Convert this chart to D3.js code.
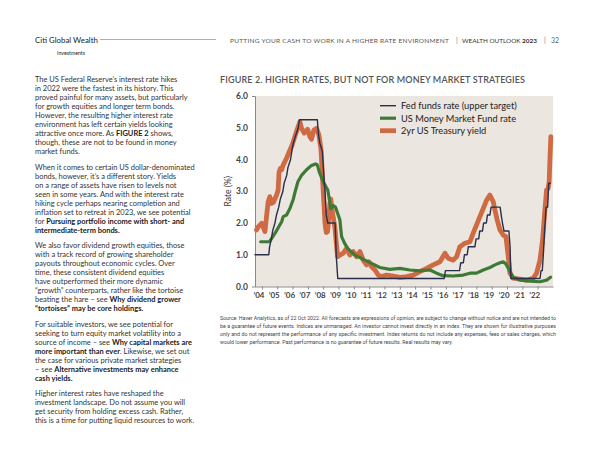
<!DOCTYPE html>
<html><head><meta charset="utf-8">
<script src="https://cdn.jsdelivr.net/npm/d3@7"></script>
<style>html,body{margin:0;padding:0;background:#fff;} svg{display:block}</style>
</head><body>
<svg id="c" width="600" height="463"></svg>
<script>
// ---------------- DATA ----------------
const years = d3.range(2004, 2023);
const yTicks = [0, 1, 2, 3, 4, 5, 6];
const seriesNames = ["Fed funds rate (upper target)", "US Money Market Fund rate", "2yr US Treasury yield"];

const fedT = [2003.55,2004.45,2004.5,2004.62,2004.7,2004.85,2004.95,2005.1,2005.2,2005.37,2005.45,2005.62,2005.7,2005.87,2005.95,2006.04,2006.2,2006.37,2006.45,2007.62,2007.7,2007.79,2007.95,2008.04,2008.12,2008.2,2008.3,2008.78,2008.85,2008.95,2015.9,2015.98,2016.9,2016.98,2017.15,2017.22,2017.4,2017.47,2017.9,2017.98,2018.15,2018.22,2018.4,2018.47,2018.65,2018.72,2018.88,2018.96,2019.55,2019.62,2019.7,2019.8,2020.12,2020.2,2020.25,2022.15,2022.22,2022.3,2022.37,2022.45,2022.55,2022.65,2022.72,2022.82];
const fedV = [1.0,1.0,1.25,1.5,1.75,2.0,2.25,2.5,2.75,3.0,3.25,3.5,3.75,4.0,4.25,4.5,4.75,5.0,5.25,5.25,4.75,4.5,4.25,3.5,3.0,2.25,2.0,2.0,1.0,0.25,0.25,0.5,0.5,0.75,0.75,1.0,1.0,1.25,1.25,1.5,1.5,1.75,1.75,2.0,2.0,2.25,2.25,2.5,2.5,2.25,2.0,1.75,1.75,1.25,0.25,0.25,0.5,0.5,1.0,1.75,2.5,2.5,3.25,3.25];

const mmfT = [2003.92,2004.5,2004.85,2005.29,2005.39,2005.61,2005.83,2006.05,2006.2,2006.35,2006.6,2006.9,2007.2,2007.5,2007.62,2007.75,2008.0,2008.3,2008.5,2008.65,2008.8,2009.09,2009.2,2009.4,2009.6,2010.07,2010.72,2011.16,2011.7,2012.36,2013.01,2013.66,2014.31,2014.97,2015.4,2015.83,2016.49,2017.14,2017.58,2018.01,2018.45,2018.88,2019.21,2019.54,2019.75,2019.93,2020.19,2020.4,2020.84,2021.49,2022.15,2022.58,2022.84];
const mmfV = [1.41,1.41,1.67,2.04,2.2,2.25,2.46,2.75,3.04,3.3,3.51,3.67,3.8,3.86,3.83,3.6,3.3,3.04,2.45,2.55,2.5,2.1,1.57,1.36,1.2,0.99,0.83,0.73,0.6,0.54,0.57,0.52,0.49,0.52,0.42,0.34,0.33,0.36,0.42,0.42,0.52,0.6,0.68,0.75,0.78,0.71,0.47,0.29,0.2,0.17,0.15,0.2,0.29];

const t2yT = [2003.65,2003.76,2003.98,2004.08,2004.2,2004.3,2004.41,2004.52,2004.63,2004.75,2004.96,2005.06,2005.12,2005.2,2005.29,2005.39,2005.61,2005.83,2005.98,2006.15,2006.33,2006.48,2006.59,2006.76,2006.98,2007.13,2007.24,2007.39,2007.57,2007.72,2007.85,2007.94,2008.0,2008.07,2008.12,2008.2,2008.29,2008.44,2008.5,2008.55,2008.65,2008.76,2008.88,2008.94,2009.09,2009.31,2009.53,2009.74,2009.96,2010.18,2010.4,2010.61,2010.83,2010.98,2011.16,2011.38,2011.59,2011.81,2012.14,2012.57,2013.01,2013.45,2013.88,2014.31,2014.75,2015.18,2015.62,2015.95,2016.16,2016.49,2016.71,2016.92,2017.25,2017.58,2017.79,2018.01,2018.23,2018.45,2018.67,2018.88,2019.1,2019.21,2019.36,2019.54,2019.75,2019.93,2020.08,2020.19,2020.4,2020.84,2021.28,2021.71,2021.93,2022.15,2022.32,2022.47,2022.58,2022.68,2022.75,2022.8,2022.86];
const t2yV = [1.78,1.88,1.99,1.88,1.73,2.2,2.67,2.83,2.62,2.65,2.88,3.04,3.6,3.72,3.68,3.83,4.04,4.3,4.46,4.72,4.98,5.19,4.98,4.83,4.95,4.72,4.64,4.93,4.98,4.77,4.35,3.6,3.04,2.41,1.99,1.7,1.73,2.62,2.75,2.51,2.2,1.88,1.25,0.94,0.99,1.05,1.2,0.99,1.1,0.94,1.1,0.83,0.68,0.78,0.62,0.52,0.36,0.31,0.36,0.33,0.29,0.31,0.36,0.47,0.57,0.68,0.78,1.05,0.89,0.83,0.94,1.25,1.36,1.41,1.68,1.94,2.2,2.46,2.72,2.88,2.67,2.41,2.09,1.78,1.62,1.57,0.94,0.42,0.26,0.23,0.2,0.26,0.42,0.83,1.46,2.41,3.04,3.09,3.3,4.0,4.72];

const paragraphs = [
 ["The US Federal Reserve’s interest rate hikes",
  "in 2022 were the fastest in its history. This",
  "proved painful for many assets, but particularly",
  "for growth equities and longer term bonds.",
  "However, the resulting higher interest rate",
  "environment has left certain yields looking",
  "attractive once more. As **FIGURE 2** shows,",
  "though, these are not to be found in money",
  "market funds."],
 ["When it comes to certain US dollar-denominated",
  "bonds, however, it’s a different story. Yields",
  "on a range of assets have risen to levels not",
  "seen in some years. And with the interest rate",
  "hiking cycle perhaps nearing completion and",
  "inflation set to retreat in 2023, we see potential",
  "for **Pursuing portfolio income with short- and**",
  "**intermediate-term bonds.**"],
 ["We also favor dividend growth equities, those",
  "with a track record of growing shareholder",
  "payouts throughout economic cycles. Over",
  "time, these consistent dividend equities",
  "have outperformed their more dynamic",
  "“growth” counterparts, rather like the tortoise",
  "beating the hare – see **Why dividend grower**",
  "**“tortoises” may be core holdings.**"],
 ["For suitable investors, we see potential for",
  "seeking to turn equity market volatility into a",
  "source of income – see **Why capital markets are**",
  "**more important than ever**. Likewise, we set out",
  "the case for various private market strategies",
  "– see **Alternative investments may enhance**",
  "**cash yields.**"],
 ["Higher interest rates have reshaped the",
  "investment landscape. Do not assume you will",
  "get security from holding excess cash. Rather,",
  "this is a time for putting liquid resources to work."]
];

const footnote = [
 "Source: Haver Analytics, as of 22 Oct 2022. All forecasts are expressions of opinion, are subject to change without notice and are not intended to",
 "be a guarantee of future events. Indices are unmanaged. An investor cannot invest directly in an index. They are shown for illustrative purposes",
 "only and do not represent the performance of any specific investment. Index returns do not include any expenses, fees or sales charges, which",
 "would lower performance. Past performance is no guarantee of future results. Real results may vary."
];

// ---------------- DRAW ----------------
const svg = d3.select("#c");
const FONT = "Lato, 'Open Sans', sans-serif";

function fitWidth(sel, target) {
  const w = sel.node().getComputedTextLength();
  const fs = parseFloat(sel.attr("font-size"));
  sel.attr("font-size", fs * target / w);
  return fs * target / w;
}

// Header
svg.append("text").attr("x", 35).attr("y", 42.5).attr("font-family", FONT)
  .attr("font-size", 8.5).attr("fill", "#222").text("Citi Global Wealth")
  .call(s => fitWidth(s, 63));
svg.append("text").attr("x", 85).attr("y", 55).attr("text-anchor", "end").attr("font-family", FONT)
  .attr("font-size", 7).attr("fill", "#222").text("Investments")
  .call(s => fitWidth(s, 28));
svg.append("line").attr("x1", 100).attr("x2", 216).attr("y1", 39.5).attr("y2", 39.5)
  .attr("stroke", "#9a9a9a").attr("stroke-width", 0.8);
svg.append("text").attr("x", 230).attr("y", 42.5).attr("font-family", FONT)
  .attr("font-size", 6.5).attr("fill", "#555").attr("letter-spacing", 1.1)
  .text("PUTTING YOUR CASH TO WORK IN A HIGHER RATE ENVIRONMENT")
  .attr("textLength", 220).attr("lengthAdjust", "spacing");
svg.append("text").attr("x", 456).attr("y", 42.5).attr("font-family", FONT).attr("font-size", 7).attr("fill", "#777").text("|");
const wo = svg.append("text").attr("x", 462).attr("y", 42.5).attr("font-family", FONT).attr("font-size", 7).attr("fill", "#333");
wo.append("tspan").text("WEALTH OUTLOOK ");
wo.append("tspan").attr("font-weight", "bold").text("2023");
fitWidth(wo, 75);
svg.append("text").attr("x", 544).attr("y", 42.5).attr("font-family", FONT).attr("font-size", 7).attr("fill", "#777").text("|");
svg.append("text").attr("x", 551).attr("y", 42.5).attr("font-family", FONT).attr("font-size", 7).attr("fill", "#666").text("32");

// Left column text
const colG = svg.append("g");
let yb = 82, L = 9.0, G = 6.5;
const lineNodes = [];
paragraphs.forEach((p, pi) => {
  p.forEach((line, li) => {
    const t = colG.append("text").attr("x", 35).attr("y", yb).attr("font-family", FONT)
      .attr("font-size", 8).attr("fill", "#333");
    const parts = line.split("**");
    parts.forEach((part, k) => {
      if (!part) return;
      const ts = t.append("tspan").text(part);
      if (k % 2 === 1) ts.attr("font-weight", "bold").attr("fill", "#1b1b1b");
    });
    lineNodes.push({t, line});
    yb += L;
  });
  yb += G;
});
const ref = lineNodes.find(d => d.line.startsWith("When it comes"));
const fsCol = fitWidth(ref.t, 160);
lineNodes.forEach(d => d.t.attr("font-size", fsCol));

// Chart title
svg.append("text").attr("x", 220).attr("y", 83).attr("font-family", FONT)
  .attr("font-size", 9).attr("fill", "#555").attr("font-weight", "600")
  .text("FIGURE 2. HIGHER RATES, BUT NOT FOR MONEY MARKET STRATEGIES")
  .attr("textLength", 305).attr("lengthAdjust", "spacing");

// Scales
const x = d3.scaleLinear().domain([2003.55, 2023.0]).range([255, 553]);
const y = d3.scaleLinear().domain([0, 6]).range([286.5, 96]);

svg.append("rect").attr("x", x.range()[0]).attr("y", y(6)).attr("width", x.range()[1] - x.range()[0])
  .attr("height", y(0) - y(6)).attr("fill", "#ebe6df");

// Y axis
const yAxis = d3.axisLeft(y).tickValues(yTicks).tickFormat(d3.format(".1f")).tickSizeInner(0).tickSizeOuter(3).tickPadding(7);
const ya = svg.append("g").attr("transform", `translate(${x.range()[0]},0)`).call(yAxis);
ya.select(".domain").attr("stroke", "#8a8a8a");
ya.selectAll("text").attr("font-family", FONT).attr("font-size", 8.5).attr("font-weight", "bold").attr("fill", "#444");

// X axis
const xAxis = d3.axisBottom(x).tickValues(years).tickFormat(d => "’" + String(d).slice(2)).tickSizeInner(3).tickSizeOuter(0).tickPadding(3);
const xa = svg.append("g").attr("transform", `translate(0,${y(0)})`).call(xAxis);
xa.select(".domain").attr("stroke", "#8a8a8a");
xa.selectAll(".tick line").attr("stroke", "#8a8a8a");
xa.selectAll("text").attr("font-family", FONT).attr("font-size", 8).attr("font-weight", "bold").attr("fill", "#444").attr("dx", -3.5);

// axis title
svg.append("text").attr("transform", `translate(231,${(y(0)+y(6))/2}) rotate(-90)`).attr("text-anchor", "middle")
  .attr("font-family", FONT).attr("font-size", 8.5).attr("fill", "#333").text("Rate (%)");

// Lines
const line = d3.line().x(d => x(d[0])).y(d => y(d[1]));
const zip = (a, b) => a.map((v, i) => [v, b[i]]);
const series = [
  {name: seriesNames[2], data: zip(t2yT, t2yV), color: "#cf6a43", w: 4.8},
  {name: seriesNames[1], data: zip(mmfT, mmfV), color: "#3e7a35", w: 3.2},
  {name: seriesNames[0], data: zip(fedT, fedV), color: "#2b2e4c", w: 1.4}
];
series.forEach(s => {
  svg.append("path").attr("d", line(s.data)).attr("fill", "none").attr("stroke", s.color)
    .attr("stroke-width", s.w).attr("stroke-linejoin", "round").attr("stroke-linecap", "round");
});

// Legend
const leg = [series[2], series[1], series[0]];
let legFs = 10;
leg.forEach((s, i) => {
  const cy = 105.7 + i * 12.5;
  svg.append("line").attr("x1", 380).attr("x2", 396).attr("y1", cy).attr("y2", cy)
    .attr("stroke", s.color).attr("stroke-width", s.w);
  const t = svg.append("text").attr("class", "legtext").attr("x", 401).attr("y", cy + 3.5).attr("font-family", FONT)
    .attr("font-size", 10).attr("fill", "#222").text(s.name);
  if (i === 0) legFs = fitWidth(t, 116);
});
svg.selectAll(".legtext").attr("font-size", legFs);

// Footnote (natural font size, justified with word-spacing)
const FN_FONT = "'Liberation Sans Narrow', 'Roboto', sans-serif";
const fnNodes = footnote.map((f, i) => svg.append("text").attr("x", 220).attr("y", 319.5 + i * 8.3)
  .attr("font-family", FN_FONT).attr("font-size", 6.3).attr("fill", "#444").text(f));
const fnFs = fitWidth(fnNodes[0], 336);
fnNodes.forEach((t, i) => {
  t.attr("font-size", fnFs);
  if (i < 3) {
    const w = t.node().getComputedTextLength();
    const nSp = (footnote[i].match(/ /g) || []).length;
    t.attr("word-spacing", (336 - w) / nSp);
  }
});
</script>
</body></html>
